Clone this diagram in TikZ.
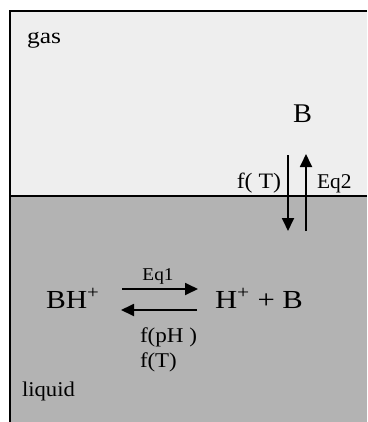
\documentclass[tikz,border=0pt]{standalone}
\usepackage{fontspec}
\usepackage{graphicx}
\setmainfont{Liberation Serif}
\usetikzlibrary{arrows.meta}
\definecolor{gasc}{HTML}{EEEEEE}
\definecolor{liqc}{HTML}{B3B3B3}
\newcommand\myxs[2]{\scalebox{#1}[1]{#2}}
\begin{document}
\begin{tikzpicture}[x=1pt,y=-1pt,
  lbl/.style={inner sep=0pt,outer sep=0pt,text=black},
  rx/.style={line width=1.8pt,-{Triangle[length=13pt,width=12pt]}},
  fs/.style={font=\fontsize{#1}{#1}\selectfont}]
\useasboundingbox (0,0) rectangle (367,422);
\fill[white] (0,0) rectangle (367,422);
\fill[gasc] (10,11) rectangle (367,196);
\fill[liqc] (10,196) rectangle (367,422);
\draw[line width=1.8pt] (367,11) -- (10,11) -- (10,422);
\draw[line width=1.6pt] (10,196) -- (367,196);
\node[lbl,fs=22,anchor=base west] (gas) at (27,44) {\myxs{1.16}{gas}};
\node[lbl,fs=21,anchor=base west] (liquid) at (22,396) {\myxs{1.08}{liquid}};
\node[lbl,fs=27,anchor=base] (Bg) at (302.5,123) {\myxs{1.05}{B}};
\node[lbl,fs=22,anchor=base east] (fT1) at (281,188) {\myxs{1.08}{f( T)}};
\node[lbl,fs=21,anchor=base west] (eq2) at (317,188) {\myxs{1.02}{Eq2}};
\node[lbl,fs=26,anchor=base west] (BH) at (46,308) {\myxs{1.14}{BH\textsuperscript{+}}};
\node[lbl,fs=26,anchor=base west] (HB) at (215,308) {\myxs{1.18}{H\textsuperscript{+} + B}};
\node[lbl,fs=18,anchor=base] (eq1) at (158,280) {\myxs{1.07}{Eq1}};
\node[lbl,fs=21,anchor=base west] (fpH) at (140,342) {\myxs{1.1}{f(pH )}};
\node[lbl,fs=21,anchor=base west] (fT2) at (140,367) {\myxs{1.09}{f(T)}};
\coordinate (d1) at (288,155);
\coordinate (d2) at (288,231);
\coordinate (u1) at (306,231);
\coordinate (u2) at (306,154);
\coordinate (r1) at (122,289);
\coordinate (r2) at (198,289);
\coordinate (l1) at (197,310);
\coordinate (l2) at (121,310);
\draw[rx] (d1) -- (d2);
\draw[rx] (u1) -- (u2);
\draw[rx] (r1) -- (r2);
\draw[rx] (l1) -- (l2);
\end{tikzpicture}
\end{document}
